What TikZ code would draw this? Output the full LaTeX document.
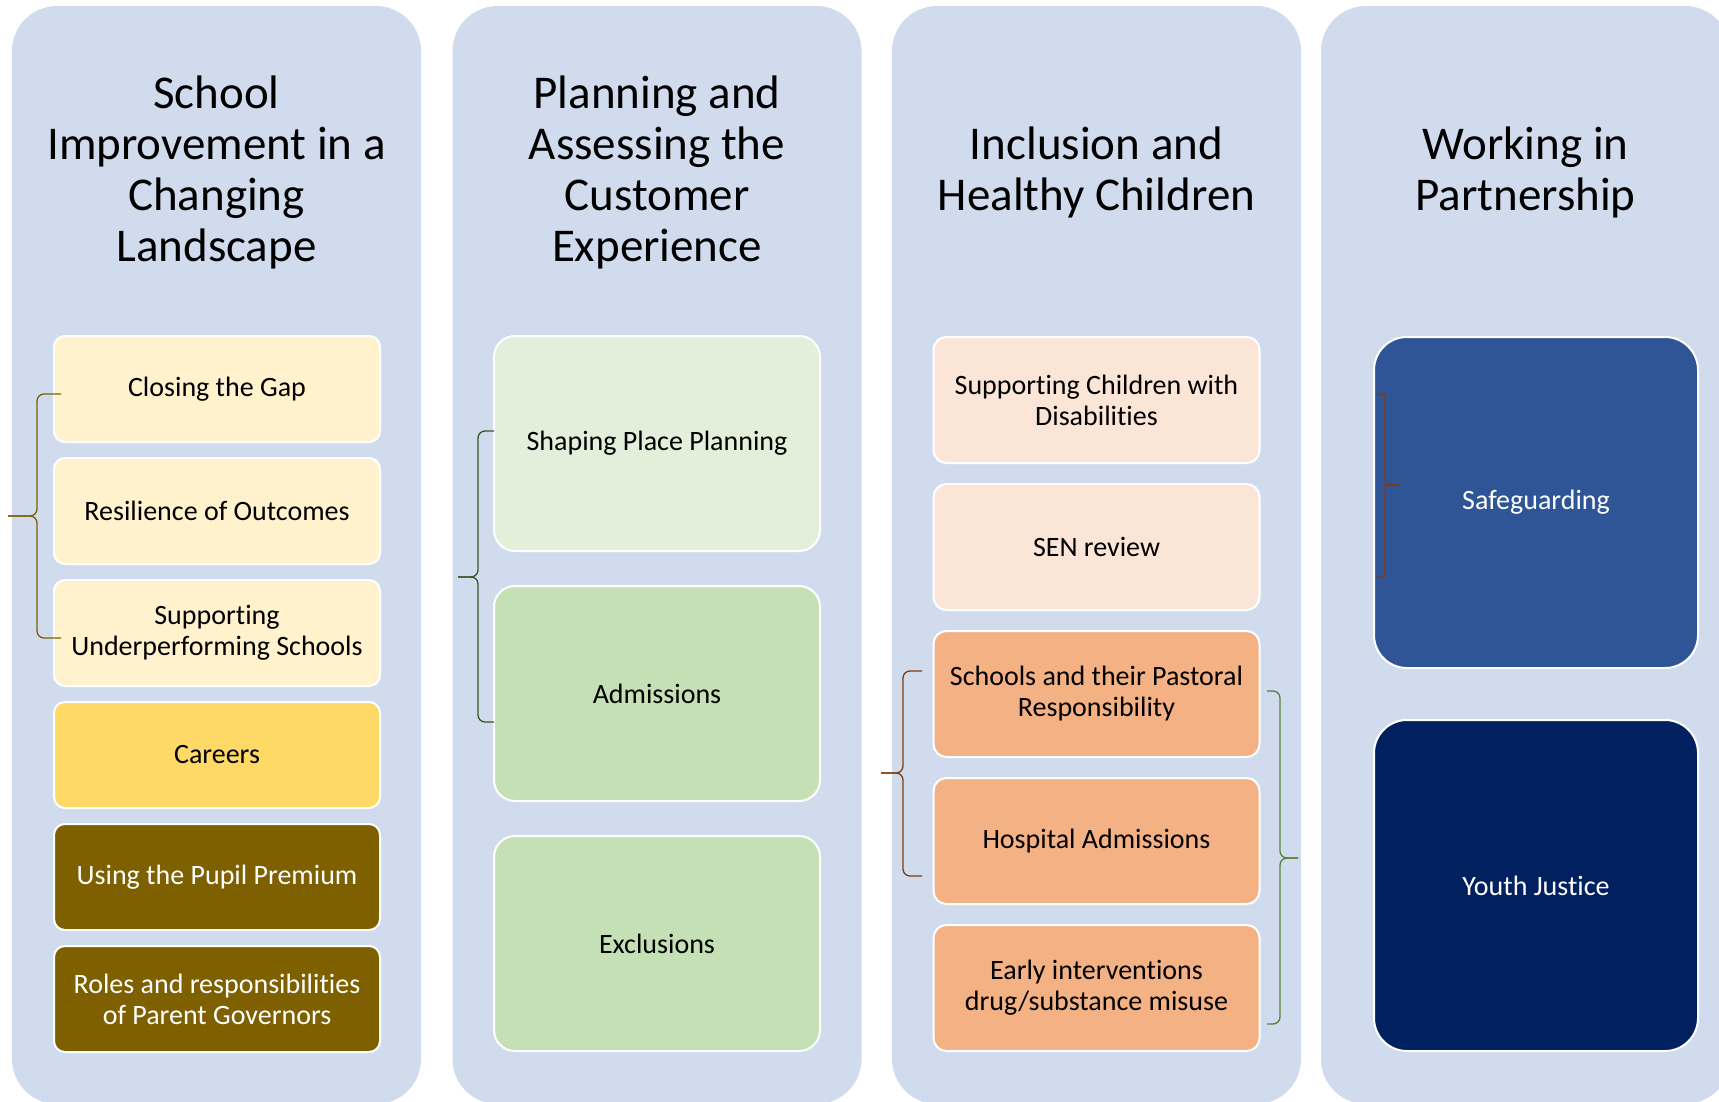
\documentclass[tikz,border=0pt]{standalone}
\usepackage{fontspec}
\setmainfont{Carlito}[Ligatures=NoCommon]
\usetikzlibrary{positioning}

\definecolor{panelblue}{RGB}{208,220,238}
\definecolor{paleyellow}{HTML}{FFF2CC}
\definecolor{gold}{HTML}{FFD966}
\definecolor{darkolive}{HTML}{7F6000}
\definecolor{palegreen}{HTML}{E2EFDA}
\definecolor{midgreen}{HTML}{C5E0B4}
\definecolor{peach}{HTML}{FBE5D6}
\definecolor{apricot}{HTML}{F4B183}
\definecolor{royal}{HTML}{2F5597}
\definecolor{navy}{HTML}{002060}
\definecolor{forest}{HTML}{385723}
\definecolor{rust}{HTML}{843C0C}
\definecolor{leaf}{HTML}{548235}

\tikzset{
    %Define style for the background columns
    column/.style={
           rectangle,
           rounded corners=45pt,
           fill=panelblue,
           minimum width=409pt,
           minimum height=1098pt},
    %Define style for the column headings
    heading/.style={
           align=center,
           font=\fontsize{47}{51}\selectfont},
    %Define style for topic boxes
    topic/.style={
           rectangle,
           draw=white, line width=2pt,
           outer sep=0pt,
           minimum width=326pt,
           inner sep=4pt,
           align=center,
           font=\fontsize{28}{31}\selectfont},
    % one box size per column
    schoolbox/.style={topic, minimum height=106pt, rounded corners=11pt},
    planbox/.style={topic, minimum height=215pt, rounded corners=21pt},
    inclusionbox/.style={topic, minimum height=126pt, rounded corners=13pt},
    partnerbox/.style={topic, minimum height=331pt, minimum width=324pt, rounded corners=33pt},
    % Define brace style
    bracket/.style={
           line width=1.3pt,
           rounded corners=7pt}
}

\begin{document}
\begin{tikzpicture}[x=1pt, y=-1pt]
        \useasboundingbox (0,0) rectangle (1719,1102);

        %columns
        \node[column] (col1) at (216.5,555) {};
        \node[column] (col2) at (657,555) {};
        \node[column] (col3) at (1096.5,555) {};
        \node[column] (col4) at (1525.5,555) {};

        %headings
        \node[heading] (head1) at (216.5,172.5)
        {School\\Improvement in a\\Changing\\Landscape};
        \node[heading] (head2) at (657,172.5)
        {Planning and\\Assessing the\\Customer\\Experience};
        \node[heading] (head3) at (1096.5,172.5)
        {Inclusion and\\Healthy Children};
        \node[heading] (head4) at (1525.5,172.5)
        {Working in\\Partnership};

        % school improvement boxes
        \node[schoolbox, fill=paleyellow, anchor=north] at (217,336)
        (closing)
        {Closing the Gap}
        ;
        \node[schoolbox, fill=paleyellow, below=16pt of closing]
        (resilience)
        {Resilience of Outcomes}
        ;
        \node[schoolbox, fill=paleyellow, below=16pt of resilience]
        (underperf)
        {Supporting\\Underperforming Schools}
        ;
        \node[schoolbox, fill=gold, below=16pt of underperf]
        (careers)
        {Careers}
        ;
        \node[schoolbox, fill=darkolive, text=white, below=16pt of careers]
        (premium)
        {Using the Pupil Premium}
        ;
        \node[schoolbox, fill=darkolive, text=white, below=16pt of premium]
        (governors)
        {Roles and responsibilities\\of Parent Governors}
        ;

        % planning boxes
        \node[planbox, fill=palegreen, anchor=north] at (657,336)
        (placeplan)
        {Shaping Place Planning}
        ;
        \node[planbox, fill=midgreen, below=35pt of placeplan]
        (admissions)
        {Admissions}
        ;
        \node[planbox, fill=midgreen, below=35pt of admissions]
        (exclusions)
        {Exclusions}
        ;

        % inclusion boxes
        \node[inclusionbox, fill=peach, anchor=north] at (1096.5,337)
        (disab)
        {Supporting Children with\\Disabilities}
        ;
        \node[inclusionbox, fill=peach, below=21pt of disab]
        (sen)
        {SEN review}
        ;
        \node[inclusionbox, fill=apricot, below=21pt of sen]
        (pastoral)
        {Schools and their Pastoral\\Responsibility}
        ;
        \node[inclusionbox, fill=apricot, below=21pt of pastoral]
        (hospital)
        {Hospital Admissions}
        ;
        \node[inclusionbox, fill=apricot, below=21pt of hospital]
        (early)
        {Early interventions\\drug/substance misuse}
        ;

        % partnership boxes
        \node[partnerbox, fill=royal, text=white, anchor=north] at (1536,337)
        (safeguard)
        {Safeguarding}
        ;
        \node[partnerbox, fill=navy, text=white, below=52pt of safeguard]
        (youth)
        {Youth Justice}
        ;

        % brace by the first three school boxes
        \draw[bracket, draw=darkolive] (61,394) -| (37,516) -- (8,516);
        \draw[bracket, draw=darkolive] (8,516) -- (37,516) |- (61,638);

        % brace by the planning boxes
        \draw[bracket, draw=forest] (494,431) -| (478,577) -- (458,577);
        \draw[bracket, draw=forest] (458,577) -- (478,577) |- (494,722);

        % left brace by the pastoral boxes
        \draw[bracket, draw=rust] (922,671) -| (903,773) -- (881,773);
        \draw[bracket, draw=rust] (881,773) -- (903,773) |- (922,876);

        % right brace by the lower inclusion boxes
        \draw[bracket, draw=leaf] (1267,691) -| (1280,858) -- (1298,858);
        \draw[bracket, draw=leaf] (1298,858) -- (1280,858) |- (1267,1024);

        % brace inside safeguarding
        \draw[bracket, draw=rust, rounded corners=4pt] (1377,394) -| (1385,485) -- (1399,485);
        \draw[bracket, draw=rust, rounded corners=4pt] (1399,485) -- (1385,485) |- (1377,577);

\end{tikzpicture}
\end{document}
